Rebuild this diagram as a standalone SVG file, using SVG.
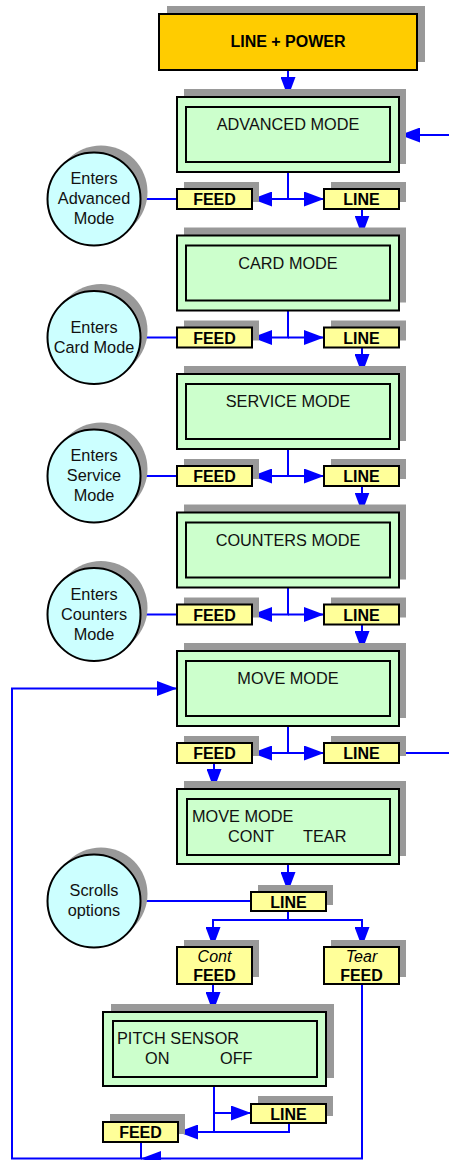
<svg xmlns="http://www.w3.org/2000/svg" width="449" height="1160" viewBox="0 0 449 1160">
<defs>
<style>
.sh{fill:#999999;stroke:none}
.mode{fill:#CCFFCC;stroke:#000;stroke-width:2}
.key{fill:#FFFF99;stroke:#000;stroke-width:2}
.circ{fill:#CCFFFF;stroke:#000;stroke-width:2}
.pw{fill:#FFCC00;stroke:#000;stroke-width:2}
.t{font-family:"Liberation Sans",Arial,sans-serif;font-size:16.3px;fill:#111}
.c{text-anchor:middle}
.b{font-family:"Liberation Sans",Arial,sans-serif;font-size:16px;font-weight:bold;fill:#000;text-anchor:middle}
.i{font-family:"Liberation Sans",Arial,sans-serif;font-size:16px;font-style:italic;fill:#000;text-anchor:middle}
.ln{fill:none;stroke:#0000FF;stroke-width:2}
.ar{marker-end:url(#ah)}
</style>
<marker id="ah" markerUnits="userSpaceOnUse" markerWidth="20" markerHeight="15" refX="20" refY="7.5" orient="auto" viewBox="0 0 20 15"><path d="M0,0 L20,7.5 L0,15 z" fill="#0000FF"/></marker>
</defs>

<g id="connectors">
<path class="ln ar" d="M288,70 V97"/>
<path class="ln ar" d="M449,135 H400"/>
<path class="ln ar" d="M288,172 V199 H252"/>
<path class="ln ar" d="M288,199 H324"/>
<path class="ln ar" d="M362,209 V235.5"/>
<path class="ln" d="M140,199 H177"/>
<path class="ln ar" d="M288,310.5 V337.5 H252"/>
<path class="ln ar" d="M288,337.5 H324"/>
<path class="ln ar" d="M362,347.5 V374"/>
<path class="ln" d="M140,337.5 H177"/>
<path class="ln ar" d="M288,449 V476 H252"/>
<path class="ln ar" d="M288,476 H324"/>
<path class="ln ar" d="M362,486 V512.5"/>
<path class="ln" d="M140,476 H177"/>
<path class="ln ar" d="M288,587.5 V614.5 H252"/>
<path class="ln ar" d="M288,614.5 H324"/>
<path class="ln ar" d="M362,624.5 V651"/>
<path class="ln" d="M140,614.5 H177"/>
<path class="ln ar" d="M288,726 V753 H252"/>
<path class="ln ar" d="M288,753 H324"/>
<path class="ln" d="M399,753 H449"/>
<path class="ln ar" d="M214,763 V789"/>
<path class="ln ar" d="M288,864 V892"/>
<path class="ln" d="M140,901 H251"/>
<path class="ln" d="M288,911 V920"/>
<path class="ln ar" d="M288,920 H213 V947"/>
<path class="ln ar" d="M288,920 H362 V947"/>
<path class="ln ar" d="M213,984 V1012"/>
<path class="ln" d="M214,1086 V1132"/>
<path class="ln ar" d="M214,1113 H251"/>
<path class="ln ar" d="M289,1123 V1132 H178"/>
<path class="ln ar" d="M362,984 V1158.5 H141"/>
<path class="ln ar" d="M141,1142 V1158.5 H12 V688.5 H177"/>
</g>

<g id="power">
<rect class="sh" x="167" y="6" width="258" height="56"/>
<rect class="pw" x="159" y="14" width="258" height="56"/>
<text class="b" x="288" y="47">LINE + POWER</text>
</g>

<g id="advanced-mode">
<rect class="sh" x="184" y="89" width="222" height="75"/>
<rect class="mode" x="177" y="97" width="222" height="75"/>
<rect class="mode" x="186" y="107" width="204" height="55"/>
<text class="t c" x="288" y="130">ADVANCED MODE</text>
</g>
<g id="card-mode">
<rect class="sh" x="184" y="227.5" width="222" height="75"/>
<rect class="mode" x="177" y="235.5" width="222" height="75"/>
<rect class="mode" x="186" y="245.5" width="204" height="55"/>
<text class="t c" x="288" y="268.5">CARD MODE</text>
</g>
<g id="service-mode">
<rect class="sh" x="184" y="366" width="222" height="75"/>
<rect class="mode" x="177" y="374" width="222" height="75"/>
<rect class="mode" x="186" y="384" width="204" height="55"/>
<text class="t c" x="288" y="407">SERVICE MODE</text>
</g>
<g id="counters-mode">
<rect class="sh" x="184" y="504.5" width="222" height="75"/>
<rect class="mode" x="177" y="512.5" width="222" height="75"/>
<rect class="mode" x="186" y="522.5" width="204" height="55"/>
<text class="t c" x="288" y="545.5">COUNTERS MODE</text>
</g>
<g id="move-mode">
<rect class="sh" x="184" y="643" width="222" height="75"/>
<rect class="mode" x="177" y="651" width="222" height="75"/>
<rect class="mode" x="186" y="661" width="204" height="55"/>
<text class="t c" x="288" y="684">MOVE MODE</text>
</g>

<g id="feed-0"><rect class="sh" x="184" y="182" width="75" height="20"/><rect class="key" x="177" y="189" width="75" height="20"/><text class="b" x="214.5" y="205">FEED</text></g>
<g id="line-0"><rect class="sh" x="331" y="182" width="75" height="20"/><rect class="key" x="324" y="189" width="75" height="20"/><text class="b" x="361.5" y="205">LINE</text></g>
<g id="feed-1"><rect class="sh" x="184" y="320.5" width="75" height="20"/><rect class="key" x="177" y="327.5" width="75" height="20"/><text class="b" x="214.5" y="343.5">FEED</text></g>
<g id="line-1"><rect class="sh" x="331" y="320.5" width="75" height="20"/><rect class="key" x="324" y="327.5" width="75" height="20"/><text class="b" x="361.5" y="343.5">LINE</text></g>
<g id="feed-2"><rect class="sh" x="184" y="459" width="75" height="20"/><rect class="key" x="177" y="466" width="75" height="20"/><text class="b" x="214.5" y="482">FEED</text></g>
<g id="line-2"><rect class="sh" x="331" y="459" width="75" height="20"/><rect class="key" x="324" y="466" width="75" height="20"/><text class="b" x="361.5" y="482">LINE</text></g>
<g id="feed-3"><rect class="sh" x="184" y="597.5" width="75" height="20"/><rect class="key" x="177" y="604.5" width="75" height="20"/><text class="b" x="214.5" y="620.5">FEED</text></g>
<g id="line-3"><rect class="sh" x="331" y="597.5" width="75" height="20"/><rect class="key" x="324" y="604.5" width="75" height="20"/><text class="b" x="361.5" y="620.5">LINE</text></g>
<g id="feed-4"><rect class="sh" x="184" y="736" width="75" height="20"/><rect class="key" x="177" y="743" width="75" height="20"/><text class="b" x="214.5" y="759">FEED</text></g>
<g id="line-4"><rect class="sh" x="331" y="736" width="75" height="20"/><rect class="key" x="324" y="743" width="75" height="20"/><text class="b" x="361.5" y="759">LINE</text></g>

<g id="enters-advanced"><circle class="sh" cx="101" cy="192" r="46.5"/><circle class="circ" cx="94" cy="199" r="46.5"/>
<text class="t c" x="94" y="184">Enters</text><text class="t c" x="94" y="204">Advanced</text><text class="t c" x="94" y="224">Mode</text></g>
<g id="enters-card"><circle class="sh" cx="101" cy="330.5" r="46.5"/><circle class="circ" cx="94" cy="337.5" r="46.5"/>
<text class="t c" x="94" y="332.5">Enters</text><text class="t c" x="94" y="352.5">Card Mode</text></g>
<g id="enters-service"><circle class="sh" cx="101" cy="469" r="46.5"/><circle class="circ" cx="94" cy="476" r="46.5"/>
<text class="t c" x="94" y="461">Enters</text><text class="t c" x="94" y="481">Service</text><text class="t c" x="94" y="501">Mode</text></g>
<g id="enters-counters"><circle class="sh" cx="101" cy="607.5" r="46.5"/><circle class="circ" cx="94" cy="614.5" r="46.5"/>
<text class="t c" x="94" y="599.5">Enters</text><text class="t c" x="94" y="619.5">Counters</text><text class="t c" x="94" y="639.5">Mode</text></g>

<g id="move-mode-options">
<rect class="sh" x="184" y="781" width="222" height="75"/>
<rect class="mode" x="177" y="789" width="222" height="75"/>
<rect class="mode" x="187" y="799" width="203" height="56"/>
<text class="t" x="192" y="822">MOVE MODE</text>
<text class="t" x="228" y="842">CONT</text>
<text class="t" x="303" y="842">TEAR</text>
</g>

<g id="scrolls-options"><circle class="sh" cx="101" cy="894" r="46.5"/><circle class="circ" cx="94" cy="901" r="46.5"/>
<text class="t c" x="94" y="896">Scrolls</text><text class="t c" x="94" y="916">options</text></g>

<g id="line-options"><rect class="sh" x="258" y="885" width="75" height="20"/><rect class="key" x="251" y="892" width="75" height="19"/><text class="b" x="288.5" y="907.5">LINE</text></g>

<g id="cont-feed"><rect class="sh" x="184" y="940" width="75" height="37"/><rect class="key" x="177" y="947" width="75" height="37"/>
<text class="i" x="214.5" y="962">Cont</text><text class="b" x="214.5" y="981">FEED</text></g>
<g id="tear-feed"><rect class="sh" x="331" y="940" width="75" height="37"/><rect class="key" x="324" y="947" width="75" height="37"/>
<text class="i" x="361.5" y="962">Tear</text><text class="b" x="361.5" y="981">FEED</text></g>

<g id="pitch-sensor">
<rect class="sh" x="111" y="1004" width="223" height="74"/>
<rect class="mode" x="103" y="1012" width="223" height="74"/>
<rect class="mode" x="113" y="1021" width="204" height="56"/>
<text class="t" x="117" y="1044">PITCH SENSOR</text>
<text class="t" x="145" y="1064">ON</text>
<text class="t" x="220" y="1064">OFF</text>
</g>

<g id="line-pitch"><rect class="sh" x="258" y="1096" width="75" height="20"/><rect class="key" x="251" y="1104" width="75" height="19"/><text class="b" x="288.5" y="1119.5">LINE</text></g>
<g id="feed-pitch"><rect class="sh" x="110" y="1114" width="75" height="20"/><rect class="key" x="103" y="1122" width="75" height="20"/><text class="b" x="140.5" y="1138">FEED</text></g>
</svg>
